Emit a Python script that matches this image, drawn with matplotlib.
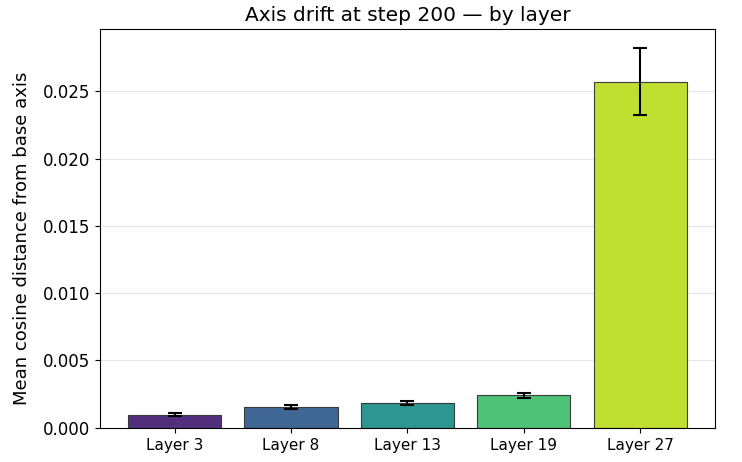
import matplotlib
matplotlib.use("Agg")
import matplotlib.pyplot as plt
import numpy as np

layers = ["Layer 3", "Layer 8", "Layer 13", "Layer 19", "Layer 27"]
mean_drift = [0.00098, 0.00158, 0.00183, 0.00243, 0.0257]
err_drift = [0.00011, 0.00015, 0.00013, 0.00018, 0.0025]

colors = plt.cm.viridis(np.linspace(0.1, 0.9, len(layers)))

fig, ax = plt.subplots(figsize=(7.42, 4.62), dpi=100)
fig.subplots_adjust(left=0.135, right=0.963, top=0.937, bottom=0.074)

x = np.arange(len(layers))
ax.bar(
    x,
    mean_drift,
    yerr=err_drift,
    color=colors,
    edgecolor="#333333",
    linewidth=0.8,
    alpha=0.95,
    capsize=5,
    width=0.8,
    error_kw=dict(elinewidth=1.5, capthick=1.5, ecolor="black"),
)

ax.set_xticks(x)
ax.set_xticklabels(layers)
ax.tick_params(axis="x", labelsize=11)
ax.tick_params(axis="y", labelsize=12)
ax.set_ylabel("Mean cosine distance from base axis", fontsize=13)
ax.yaxis.set_label_coords(-0.113, 0.476)
ax.set_title("Axis drift at step 200 — by layer", fontsize=14.5)
ax.yaxis.grid(True, color="#e6e6e6", linewidth=0.8)
ax.set_axisbelow(True)

fig.savefig("out.png", dpi=100)
